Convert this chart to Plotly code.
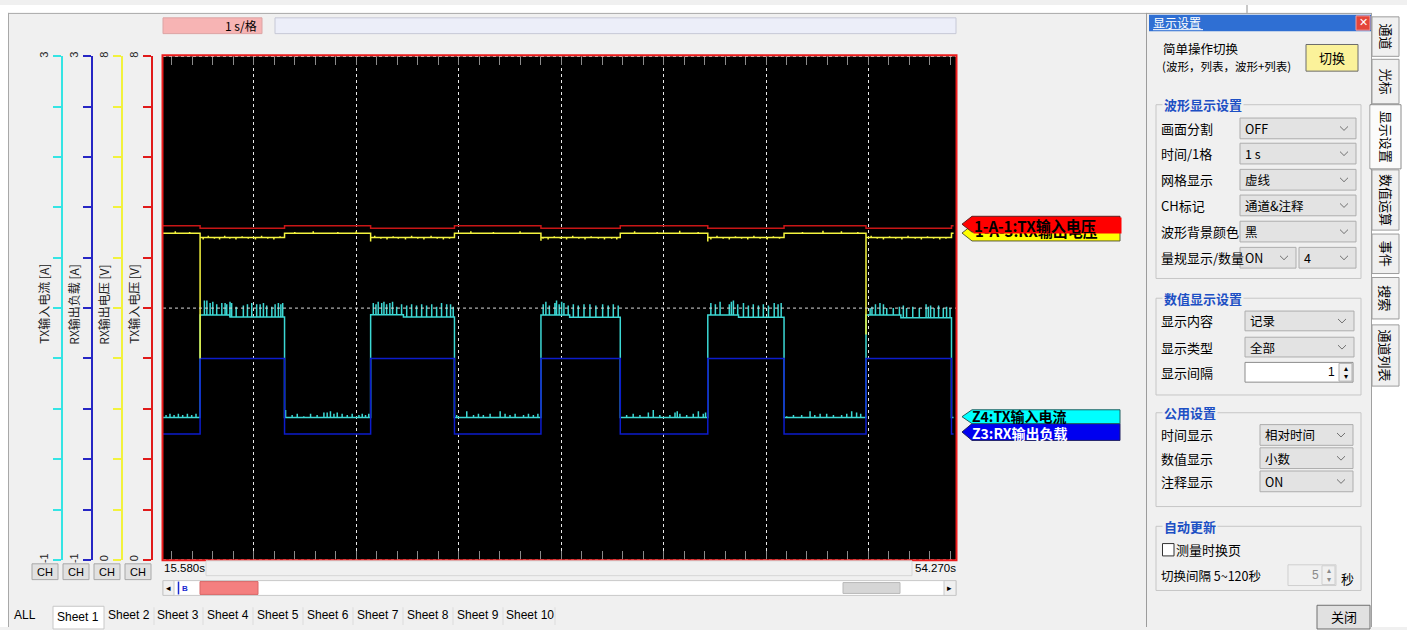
import plotly.graph_objects as go

W, H = 1407, 630
CJK = "Noto Sans CJK SC"
LAT = "Liberation Sans"

# ---------------- recording data ----------------
T_VIEW = (15.58, 54.27)          # visible time window (s)
T_DATA_END = 54.15
LOAD_ON = [17.39, 25.71, 34.02, 42.16, 49.88]
LOAD_OFF = [21.51, 29.80, 37.89, 45.88, 54.05]

# channel names and scales
CH_NAMES = ["TX输入电流 [A]", "RX输出负载 [A]", "RX输出电压 [V]", "TX输入电压 [V]"]
CH_RANGES = [(-1, 3), (-1, 3), (0, 8), (0, 8)]
TAG_TEXTS = ["Z4:TX输入电流", "Z3:RX输出负载", "1-A-3:RX输出电压", "1-A-1:TX输入电压"]

# TX input voltage (V)
TXV_IDLE, TXV_LOAD = 5.31, 5.27
# RX output voltage (V)
RXV_IDLE, RXV_LOAD = 5.19, 5.12
RXV_DIP = [3.20, 5.06, 5.07, 5.06, 3.58]
RXV_SPIKES_LOAD = [
    [(0.15, 5.09), (0.40, 5.15), (0.70, 5.10), (0.95, 5.09), (1.20, 5.15), (1.45, 5.10), (1.75, 5.09),
     (2.05, 5.14), (2.35, 5.10), (2.70, 5.09), (3.00, 5.15), (3.30, 5.10), (3.60, 5.09), (3.90, 5.14)],
    [(0.20, 5.15), (0.50, 5.10), (0.80, 5.09), (1.10, 5.14), (1.35, 5.10), (1.70, 5.09), (2.00, 5.15),
     (2.30, 5.10), (2.60, 5.09), (2.95, 5.15), (3.25, 5.10), (3.55, 5.09), (3.85, 5.10)],
    [(0.10, 5.10), (0.35, 5.09), (0.65, 5.14), (0.95, 5.10), (1.25, 5.09), (1.55, 5.15), (1.85, 5.10),
     (2.15, 5.09), (2.45, 5.14), (2.80, 5.10), (3.10, 5.09), (3.45, 5.10), (3.70, 5.09)],
    [(0.15, 5.09), (0.45, 5.15), (0.75, 5.10), (1.05, 5.09), (1.35, 5.14), (1.65, 5.10), (1.95, 5.09),
     (2.25, 5.15), (2.55, 5.10), (2.90, 5.09), (3.20, 5.14), (3.50, 5.10)],
    [(0.25, 5.15), (0.55, 5.10), (0.85, 5.09), (1.15, 5.14), (1.45, 5.10), (1.75, 5.09), (2.05, 5.15),
     (2.40, 5.10), (2.70, 5.09), (3.00, 5.14), (3.30, 5.10), (3.60, 5.09), (3.90, 5.10)],
]
RXV_SPIKES_IDLE = [
    [(0.60, 5.22), (1.30, 5.21)],
    [(0.50, 5.21), (1.40, 5.22), (2.60, 5.21), (3.50, 5.22)],
    [(0.80, 5.22), (1.90, 5.21), (3.20, 5.22)],
    [(0.70, 5.22), (1.80, 5.21), (2.90, 5.23), (3.80, 5.21)],
    [(0.90, 5.21), (1.90, 5.23), (2.80, 5.22), (3.60, 5.21)],
    [],
]
# RX output load (A)
RXI_IDLE, RXI_LOAD = 0.00, 0.60
# TX input current (A)
TXI_IDLE = 0.13
TXI_LOAD_EARLY = [0.946, 0.948, 0.946, 0.945, 0.946]
TXI_LOAD_LATE = [0.930, 0.930, 0.928, 0.928, 0.924]
TXI_DROOP_AT = [1.45, 1.60, 1.40, 1.50, 1.70]
TXI_SPIKES_LOAD = [
    [(0.21, 1.06), (0.33, 1.06), (0.49, 1.04), (0.62, 1.05), (0.81, 1.03), (1.06, 1.04), (1.22, 1.04),
     (1.30, 1.03), (1.46, 1.05), (1.54, 1.04), (1.76, 1.01), (2.11, 1.02), (2.31, 1.03), (2.52, 1.04),
     (2.76, 1.03), (2.93, 1.03), (3.09, 1.04), (3.25, 1.02), (3.50, 1.01), (3.66, 1.03), (3.82, 1.04),
     (3.94, 1.03), (4.03, 1.04)],
    [(0.13, 1.04), (0.26, 1.03), (0.37, 1.05), (0.54, 1.04), (0.65, 1.05), (0.78, 1.03), (0.94, 1.04),
     (1.07, 1.05), (1.27, 1.01), (1.51, 1.03), (1.76, 1.02), (2.00, 1.03), (2.24, 1.02), (2.49, 1.03),
     (2.73, 1.02), (2.98, 1.03), (3.22, 1.01), (3.46, 1.04), (3.71, 1.03), (3.90, 1.03), (4.03, 1.01)],
    [(0.11, 1.03), (0.24, 1.05), (0.41, 1.02), (0.68, 1.04), (0.76, 1.06), (0.89, 1.03), (1.01, 1.05),
     (1.12, 1.04), (1.33, 1.02), (1.58, 1.03), (1.82, 1.02), (2.10, 1.03), (2.39, 1.03), (2.68, 1.02),
     (3.01, 1.03), (3.28, 1.02), (3.53, 1.03), (3.77, 1.02)],
    [(0.15, 1.04), (0.37, 1.03), (0.60, 1.05), (1.05, 1.03), (1.15, 1.05), (1.25, 1.06), (1.46, 1.03),
     (1.74, 1.04), (1.98, 1.02), (2.22, 1.03), (2.47, 1.02), (2.71, 1.03), (2.96, 1.02), (3.24, 1.04),
     (3.43, 1.03), (3.58, 1.04)],
    [(0.20, 1.00), (0.29, 1.01), (0.46, 1.03), (0.68, 1.04), (0.85, 1.03), (1.01, 1.00), (1.33, 1.00),
     (1.63, 1.01), (1.82, 1.02), (1.98, 1.00), (2.28, 1.01), (2.60, 1.00), (2.93, 1.03), (3.04, 1.01),
     (3.15, 1.02), (3.32, 1.00), (3.54, 1.02), (3.77, 1.00), (3.93, 1.01), (4.10, 1.00)],
]
TXI_SPIKES_IDLE = [
    [(0.15, 0.15), (0.34, 0.16), (0.54, 0.15), (0.75, 0.16), (0.96, 0.15), (1.19, 0.16), (1.40, 0.15),
     (1.61, 0.16)],
    [(0.05, 0.19), (0.37, 0.15), (0.62, 0.16), (0.94, 0.14), (1.27, 0.16), (1.59, 0.15), (1.92, 0.17),
     (2.08, 0.17), (2.24, 0.18), (2.41, 0.16), (2.57, 0.17), (2.81, 0.16), (3.06, 0.15), (3.30, 0.16),
     (3.63, 0.15), (3.79, 0.16), (3.95, 0.15), (4.11, 0.16)],
    [(0.11, 0.15), (0.60, 0.18), (0.93, 0.15), (1.17, 0.16), (1.41, 0.15), (1.74, 0.16), (2.23, 0.18),
     (2.47, 0.16), (2.71, 0.15), (2.96, 0.16), (3.37, 0.15), (3.61, 0.16), (3.85, 0.15), (4.07, 0.16)],
    [(0.31, 0.15), (0.63, 0.16), (0.96, 0.15), (1.37, 0.17), (1.61, 0.19), (1.93, 0.15), (2.42, 0.15),
     (2.67, 0.17), (2.78, 0.18), (2.91, 0.16), (3.24, 0.15), (3.56, 0.16), (3.81, 0.18), (4.05, 0.16),
     (4.16, 0.17)],
    [(0.13, 0.14), (0.46, 0.15), (0.86, 0.15), (1.27, 0.18), (1.50, 0.15), (1.76, 0.16), (2.08, 0.16),
     (2.41, 0.15), (2.81, 0.15), (3.06, 0.16), (3.30, 0.18), (3.54, 0.17), (3.74, 0.16)],
    [],
]

# ---------------- styling ----------------
AXIS_COLORS = ["#34e4e4", "#2626c4", "#f2f23c", "#e01a1a"]
TRACE_COLORS = ["#3cd8d4", "#0c1ccc", "#f4f43e", "#c81616"]
AXIS_X = [61.5, 91.5, 121.5, 151.5]
PLOT_X = (163, 956)
PLOT_Y = (52, 562)


def px(x):
    return x / W


def py(y):
    return 1 - y / H


def waveform(steps, spikes, t_end):
    """Build a stepped record line with single-sample spikes."""
    events = [(t, 0, v) for t, v in steps] + [(t, 1, v) for t, v in spikes]
    events.sort(key=lambda e: (e[0], e[1]))
    xs, ys, cur = [], [], None
    for t, kind, v in events:
        if kind == 0:
            if cur is not None:
                xs.append(t)
                ys.append(cur)
            xs.append(t)
            ys.append(v)
            cur = v
        else:
            xs += [t, t, t]
            ys += [cur, v, cur]
    xs.append(t_end)
    ys.append(cur)
    return xs, ys


t0 = T_VIEW[0]
idle_starts = [t0] + LOAD_OFF

txi_steps = [(t0, TXI_IDLE)]
rxi_steps = [(t0, RXI_IDLE)]
rxv_steps = [(t0, RXV_IDLE)]
txv_steps = [(t0, TXV_IDLE)]
for i, (on, off) in enumerate(zip(LOAD_ON, LOAD_OFF)):
    txi_steps += [(on, TXI_LOAD_EARLY[i]), (on + TXI_DROOP_AT[i], TXI_LOAD_LATE[i]), (off, TXI_IDLE)]
    rxi_steps += [(on, RXI_LOAD), (off, RXI_IDLE)]
    rxv_steps += [(on, RXV_LOAD), (off, RXV_IDLE)]
    txv_steps += [(on, TXV_LOAD), (off, TXV_IDLE)]

txi_spikes = [(on + dt, v) for on, seg in zip(LOAD_ON, TXI_SPIKES_LOAD) for dt, v in seg]
txi_spikes += [(ts + dt, v) for ts, seg in zip(idle_starts, TXI_SPIKES_IDLE) for dt, v in seg]
rxv_spikes = [(on, d) for on, d in zip(LOAD_ON, RXV_DIP)]
rxv_spikes += [(on + dt, v) for on, seg in zip(LOAD_ON, RXV_SPIKES_LOAD) for dt, v in seg]
rxv_spikes += [(ts + dt, v) for ts, seg in zip(idle_starts, RXV_SPIKES_IDLE) for dt, v in seg]

waves = [
    waveform(txi_steps, txi_spikes, T_DATA_END),
    waveform(rxi_steps, [], T_DATA_END),
    waveform(rxv_steps, rxv_spikes, T_DATA_END),
    waveform(txv_steps, [], T_DATA_END),
]

fig = go.Figure()
axis_ids = ["y", "y2", "y3", "y4"]
for (xs, ys), name, ax, col in zip(waves, CH_NAMES, axis_ids, TRACE_COLORS):
    fig.add_trace(go.Scatter(x=xs, y=ys, mode="lines", name=name, yaxis=ax,
                             line=dict(color=col, width=1.5), hoverinfo="skip"))

layout_axes = {}
for k, (rng, col, xpos) in enumerate(zip(CH_RANGES, AXIS_COLORS, AXIS_X)):
    lo, hi = rng
    vals = [lo + (hi - lo) * j / 10 for j in range(11)]
    text = [f"{lo:g}"] + [""] * 9 + [f"{hi:g}"]
    cfg = dict(range=[lo, hi], anchor="free", position=px(xpos), side="left",
               showline=True, linecolor=col, linewidth=1.5,
               ticks="outside", ticklen=8, tickwidth=1.5, tickcolor=col,
               tickvals=vals, ticktext=text, tickangle=-90,
               tickfont=dict(family=LAT, size=11, color="#222222"),
               showgrid=False, zeroline=False, fixedrange=True)
    if k == 0:
        cfg["domain"] = [py(PLOT_Y[1]), py(PLOT_Y[0])]
        layout_axes["yaxis"] = cfg
    else:
        cfg["overlaying"] = "y"
        layout_axes[f"yaxis{k + 1}"] = cfg

shapes, annots = [], []


def box(x0, y0, x1, y1, fill=None, line=None, lw=1):
    shapes.append(dict(type="rect", xref="paper", yref="paper",
                       x0=px(x0), x1=px(x1), y0=py(y1), y1=py(y0),
                       fillcolor=fill or "rgba(0,0,0,0)",
                       line=dict(color=line or "rgba(0,0,0,0)", width=lw if line else 0)))


def seg(x0, y0, x1, y1, color, lw=1, dash=None):
    ln = dict(color=color, width=lw)
    if dash:
        ln["dash"] = dash
    shapes.append(dict(type="line", xref="paper", yref="paper",
                       x0=px(x0), x1=px(x1), y0=py(y0), y1=py(y1), line=ln))


def poly(pts, fill, line=None, lw=1, closed=True):
    d = "M " + " L ".join(f"{px(x):.6f},{py(y):.6f}" for x, y in pts) + (" Z" if closed else "")
    shapes.append(dict(type="path", xref="paper", yref="paper", path=d,
                       fillcolor=fill if closed else "rgba(0,0,0,0)",
                       line=dict(color=line or fill, width=lw if line else 0)))


def label(x, y, s, size=13, color="#000000", anchor="left", family=CJK, angle=0, **kw):
    annots.append(dict(x=px(x), y=py(y), xref="paper", yref="paper", text=s, showarrow=False,
                       xanchor=anchor, yanchor="middle", textangle=angle,
                       font=dict(family=family, size=size, color=color), **kw))


# ---- plot furniture: centre line, edge dots, frame ----
shapes.append(dict(type="line", xref="x domain", yref="y4", x0=0, x1=1, y0=4, y1=4,
                   line=dict(color="#d8d8d8", width=1, dash="dot")))
for yy in (0, 1):
    shapes.append(dict(type="line", xref="x domain", yref="y domain", x0=0, x1=1, y0=yy, y1=yy,
                       line=dict(color="#e8e8e8", width=1, dash="dot")))
box(162.5, 51, 956.5, 562.5, line="#ec1c1c", lw=2)

# ---- window frame ----
box(0, 0, W, 8, "#ffffff")
box(0, 0, 8, H, "#ffffff")
seg(8, 8.5, 1146, 8.5, "#a8a8a8")
seg(8.5, 8, 8.5, H, "#a8a8a8")
seg(1247, 0, 1247, 8, "#909090")

# ---- top bar ----
box(163, 13, 262, 29, "#f7b4b4", "#dca4a4")
label(259, 21, "1 s/格", size=12, anchor="right")
box(275, 13, 956, 29, "#eceef9", "#c6c8d6")

# ---- left axis titles and CH buttons ----
for name, xpos in zip(CH_NAMES, AXIS_X):
    label(xpos - 18, 303, name, size=12, anchor="center", angle=-90, color="#222222")
for xb in (32, 63, 94, 125):
    box(xb, 566, xb + 26, 582, "#e1e1e1", "#a8a8a8")
    label(xb + 13, 574, "CH", size=11, anchor="center", family=LAT)

# ---- time window row and scrollbar ----
label(162, 570, "15.580s", size=11.5, family=LAT)
label(958, 570, "54.270s", size=11.5, family=LAT, anchor="right")
box(206, 563, 912, 578, "#f0f0f0", "#d6d6d6")
box(163, 583, 956, 598, "#ffffff", "#c8c8c8")
box(163, 583, 174, 598, "#f0f0f0", "#c8c8c8")
label(168.5, 590.5, "◂", size=9, anchor="center", family="DejaVu Sans")
box(944, 583, 956, 598, "#f0f0f0", "#c8c8c8")
label(950, 590.5, "▸", size=9, anchor="center", family="DejaVu Sans")
seg(178.5, 584, 178.5, 597, "#1a2ad0", 1.5)
label(180, 590.5, "<b>B</b>", size=8, color="#1a2ad0", family=LAT)
box(200, 584, 258, 597, "#f47f7f", "#d86868")
box(843, 585, 900, 596, "#d6d6d6", "#b8b8b8")

# ---- sheet tabs ----
SHEETS = ["ALL"] + [f"Sheet {i}" for i in range(1, 11)]
sheet_x = [25, 78, 129, 178, 228, 278, 328, 378, 428, 478, 530]
for i, (s, xc) in enumerate(zip(SHEETS, sheet_x)):
    if i == 1:
        box(53, 609, 104, H + 2, "#ffffff", "#c8c8c8")
        label(xc, 620, s, size=12, anchor="center", family=LAT)
    else:
        if i > 1:
            seg(xc + 25, 610, xc + 25, 628, "#dcdcdc")
        label(xc, 618, s, size=12, anchor="center", family=LAT)

# ---- channel tags on the right of the trace area ----
def tag(y_top, y_bot, fill, edge):
    yc = (y_top + y_bot) / 2
    poly([(962, yc), (972, y_top), (1120, y_top), (1120, y_bot), (972, y_bot)], fill, edge, 1)


tag(223, 239, "#ffff00", "#5a5a3a")
tag(214, 230, "#ff0000", "#602020")
tag(424, 441, "#0000f0", "#202060")
tag(410, 424, "#00ffff", "#206060")
# the RX voltage tag sits half hidden under the TX voltage tag
annots.append(dict(x=px(973), y=py(228), xref="paper", yref="paper", showarrow=False,
                   xanchor="left", yanchor="middle", text=f"<b>{TAG_TEXTS[2]}</b>",
                   font=dict(family=CJK, size=15, color="#000000")))
annots.append(dict(x=px(972.5), y=py(214.5), xref="paper", yref="paper", showarrow=False,
                   xanchor="left", yanchor="top", width=147, height=15, borderpad=0, align="left",
                   bgcolor="#ff0000", text=f"<b>{TAG_TEXTS[3]}</b>",
                   font=dict(family=CJK, size=15, color="#000000")))
label(970, 416.5, f"<b>{TAG_TEXTS[0]}</b>", size=14, color="#000000")
label(970, 433, f"<b>{TAG_TEXTS[1]}</b>", size=14, color="#ffffff")

# ---- settings panel ----
seg(1146.5, 8, 1146.5, H, "#9c9c9c")
seg(1146, 8.5, 1372, 8.5, "#9c9c9c")
box(1149, 10, 1371, 26.5, "#2f6fd3")
label(1151, 18, "显示设置", size=12, color="#ffffff")
seg(1153, 25, 1203, 25, "#ffffff")
box(1356, 11, 1370, 25.5, "#e4463a", "#f0a0a0")
label(1363, 18, "✕", size=11, color="#ffffff", anchor="center", family="DejaVu Sans")

label(1201, 44, "简单操作切换", size=12.5, anchor="center")
label(1226, 61.5, "(波形，列表，波形+列表)", size=11.5, anchor="center")
box(1306, 40, 1358, 67, "#fbf29a", "#6c6c6c")
label(1332, 53, "切换", size=13, anchor="center")


def group(title, y0, y1):
    box(1156, y0, 1361, y1, None, "#c6c6c6")
    label(1162, y0, f"<b>{title}</b>", size=13, color="#1c4fc4", bgcolor="#f0f0f0")


def dropdown(x0, x1, yc, text, h=21):
    box(x0, yc - h / 2, x1, yc + h / 2, "#e3e3e3", "#adadad")
    label(x0 + 3, yc, text, size=12.5)
    cx = x1 - 12
    poly([(cx - 4, yc - 2), (cx, yc + 2), (cx + 4, yc - 2)], None, "#707070", 1, closed=False)


group("波形显示设置", 101, 277)
rows1 = [("画面分割", ["OFF"]), ("时间/1格", ["1 s"]), ("网格显示", ["虚线"]),
         ("CH标记", ["通道&注释"]), ("波形背景颜色", ["黑"]), ("量规显示/数量", ["ON", "4"])]
for (name, opts), yc in zip(rows1, [125, 150.5, 177, 203, 229.5, 256]):
    label(1159, yc, name, size=13)
    if len(opts) == 1:
        dropdown(1240, 1356, yc, opts[0])
    else:
        dropdown(1240, 1296, yc, opts[0])
        dropdown(1299, 1356, yc, opts[1])

group("数值显示设置", 297, 395)
label(1159, 320, "显示内容", size=13)
dropdown(1245, 1354, 320, "记录", h=20)
label(1159, 346.5, "显示类型", size=13)
dropdown(1245, 1354, 346.5, "全部", h=20)
label(1159, 372, "显示间隔", size=13)
box(1245, 362, 1353, 382, "#ffffff", "#8c8c8c")
label(1337, 372, "1", size=12, anchor="right", family=LAT)
box(1339, 363, 1352, 381, "#f0f0f0", "#b0b0b0")
label(1345.5, 368, "▴", size=8, anchor="center", family="DejaVu Sans")
label(1345.5, 376, "▾", size=8, anchor="center", family="DejaVu Sans")

group("公用设置", 413, 508)
for name, opt, yc in [("时间显示", "相对时间", 435.5), ("数值显示", "小数", 459), ("注释显示", "ON", 482.5)]:
    label(1159, yc, name, size=13)
    dropdown(1260, 1353, yc, opt)

group("自动更新", 528, 593)
box(1162.5, 545.5, 1174, 558, "#ffffff", "#333333")
label(1174, 552, "测量时换页", size=13)
label(1159, 578, "切换间隔 5~120秒", size=12.5)
box(1288, 567, 1336, 588, "#f0f0f0", "#cfcfcf")
label(1321, 577.5, "5", size=12, anchor="right", color="#8a8a8a", family=LAT)
box(1322, 568, 1335, 587, "#f0f0f0", "#cfcfcf")
label(1328.5, 573, "▴", size=8, anchor="center", color="#8a8a8a", family="DejaVu Sans")
label(1328.5, 582, "▾", size=8, anchor="center", color="#8a8a8a", family="DejaVu Sans")
label(1339, 581, "秒", size=13)
box(1317, 608, 1370, 632, "#e1e1e1", "#707070")
label(1343.5, 619.5, "关闭", size=13, anchor="center")

# ---- vertical page tabs ----
box(1371, 0, W, H, "#ffffff")
seg(1371.5, 8, 1371.5, H, "#a0a0a0")
TABS = ["通道", "光标", "显示设置", "数值运算", "事件", "搜索", "通道列表"]
tab_spans = [(12, 52), (55, 100), (103, 164), (167, 228), (232, 272), (276, 318), (324, 386)]
for i, (name, (ya, yb)) in enumerate(zip(TABS, tab_spans)):
    if i == 2:
        box(1370, ya - 2, 1401, yb + 2, "#fbfbfb", "#8c8c8c")
        seg(1371.5, ya - 1, 1371.5, yb + 1, "#fbfbfb", 2)
    else:
        box(1372, ya, 1399, yb, "#f0f0f0", "#9c9c9c")
    label(1386, (ya + yb) / 2, name, size=13, anchor="center", angle=90)

fig.update_layout(
    width=W, height=H, margin=dict(l=0, r=0, t=0, b=0),
    paper_bgcolor="#f0f0f0", plot_bgcolor="#000000", showlegend=False,
    xaxis=dict(domain=[px(PLOT_X[0]), px(PLOT_X[1])], range=list(T_VIEW), anchor="y",
               showticklabels=False, ticks="inside", ticklen=9, tickcolor="#8a8a8a",
               tick0=0, dtick=5, showgrid=True, gridcolor="#e8e8e8", griddash="dot", gridwidth=1,
               minor=dict(dtick=1, tick0=0, ticks="inside", ticklen=9, tickcolor="#8a8a8a",
                          showgrid=False),
               showline=True, linecolor="#000000", mirror="ticks", zeroline=False, fixedrange=True),
    shapes=shapes, annotations=annots,
    **layout_axes,
)

fig.write_html("out.html")
